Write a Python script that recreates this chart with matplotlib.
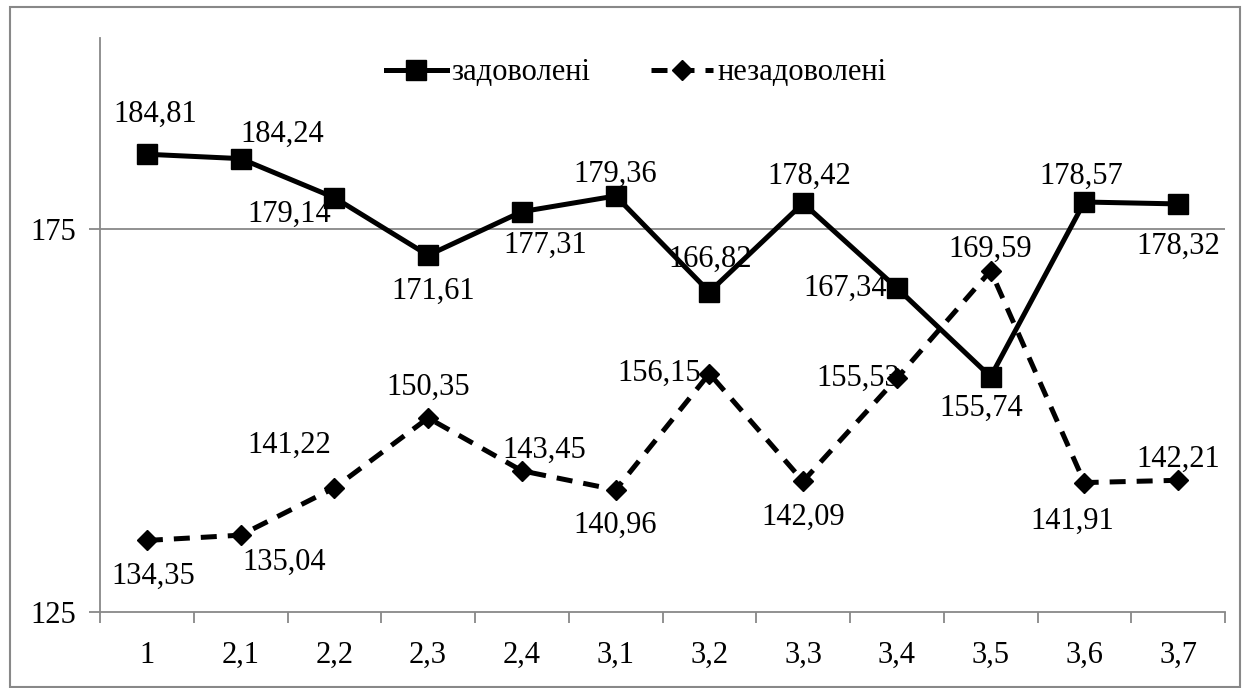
import matplotlib.pyplot as plt
from matplotlib.patches import Rectangle

plt.rcParams['font.family'] = ['Liberation Serif', 'DejaVu Serif']

# дані
categories = ['1', '2,1', '2,2', '2,3', '2,4', '3,1', '3,2', '3,3', '3,4', '3,5', '3,6', '3,7']
satisfied = [184.81, 184.24, 179.14, 171.61, 177.31, 179.36, 166.82, 178.42, 167.34, 155.74, 178.57, 178.32]
unsatisfied = [134.35, 135.04, 141.22, 150.35, 143.45, 140.96, 156.15, 142.09, 155.53, 169.59, 141.91, 142.21]
y_ticks = [125, 175]

# зміщення підписів (пікселі)
sat_off = [(8, 40), (42, 24), (-45, -17), (5, -36), (23, -34), (0, 22), (1, 33), (6, 27),
           (-52, 0), (-9, -32), (-3, 26), (0, -42)]
unsat_off = [(6, -36), (44, -27), (-45, 43), (0, 31), (22, 20), (0, -35), (-50, 0), (0, -36),
             (-39, 0), (0, 21), (-12, -39), (0, 21)]

fig = plt.figure(figsize=(12.48, 6.88), dpi=100)
ax = fig.add_axes([100 / 1248, 76 / 688, 1125 / 1248, 574 / 688])

x = list(range(len(categories)))
ax.plot(x, satisfied, color='black', lw=3.6, marker='s', ms=14, label='задоволені')
ax.plot(x, unsatisfied, color='black', lw=3.6, ls=(0, (3.2, 2.2)), marker='D', ms=10,
        label='незадоволені')

for i in x:
    ax.annotate(f'{satisfied[i]:.2f}'.replace('.', ','), (i, satisfied[i]),
                xytext=sat_off[i], textcoords='offset pixels', ha='center', va='center', fontsize=22)
    ax.annotate(f'{unsatisfied[i]:.2f}'.replace('.', ','), (i, unsatisfied[i]),
                xytext=unsat_off[i], textcoords='offset pixels', ha='center', va='center', fontsize=22)

ax.set_xlim(-0.5, len(categories) - 0.5)
ax.set_ylim(125, 200)
ax.set_yticks(y_ticks)
ax.set_yticklabels([str(v) for v in y_ticks], fontsize=22)
ax.set_xticks([i - 0.5 for i in range(len(categories) + 1)])
ax.set_xticklabels([])
ax.set_xticks(x, minor=True)
ax.set_xticklabels(categories, minor=True, fontsize=22)
ax.tick_params(axis='x', which='minor', length=0, pad=21)
ax.tick_params(axis='x', which='major', length=8, color='#888888', width=1.3)
ax.tick_params(axis='y', length=8, color='#888888', width=1.3, pad=9)
ax.axhline(175, color='#888888', lw=1.3, zorder=0)

for s in ['top', 'right']:
    ax.spines[s].set_visible(False)
for s in ['left', 'bottom']:
    ax.spines[s].set_color('#888888')
    ax.spines[s].set_linewidth(1.3)

fig.legend(*ax.get_legend_handles_labels(), loc='center', bbox_to_anchor=(636 / 1248, 1 - 73 / 688),
           ncol=2, frameon=False, fontsize=22, handlelength=2.0, handletextpad=0.15,
           columnspacing=2.0)

fig.patches.append(Rectangle((10 / 1248, 1 / 688), 1230 / 1248, 680 / 688, transform=fig.transFigure,
                             fill=False, edgecolor='#888888', lw=1.5))

fig.savefig('out.png', dpi=100)
